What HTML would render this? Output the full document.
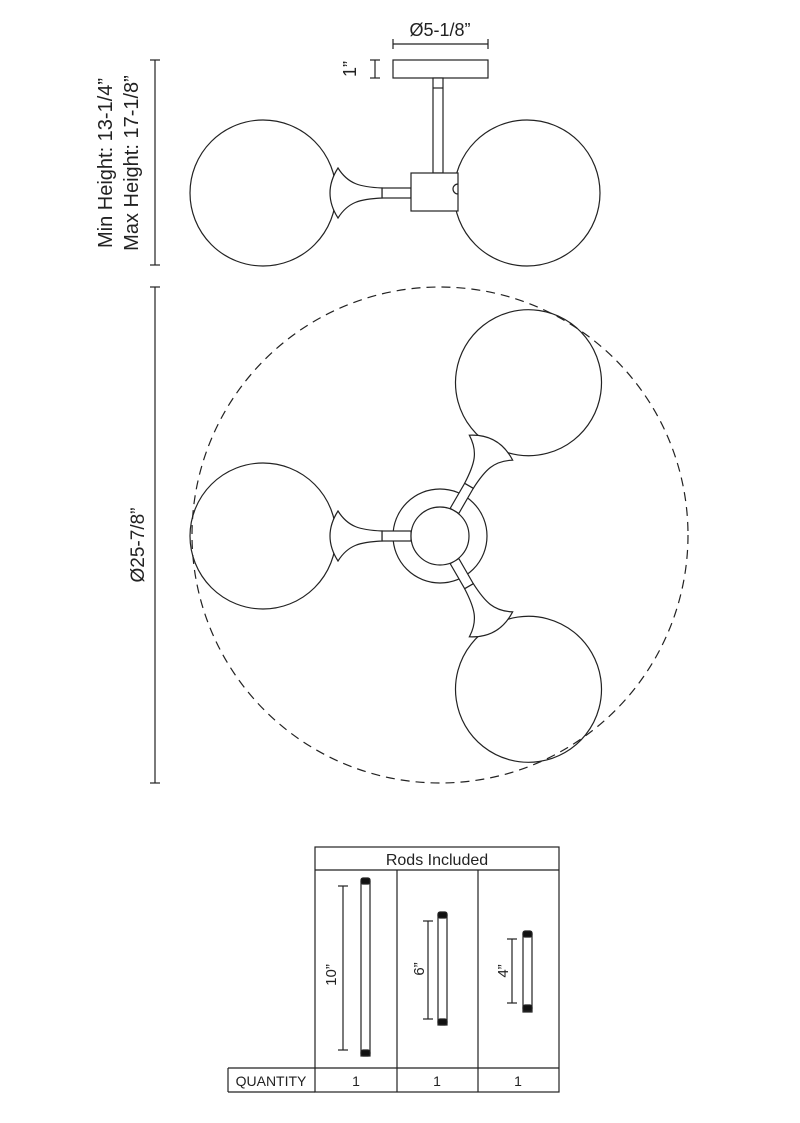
<!DOCTYPE html>
<html><head><style>html,body{margin:0;padding:0;background:#fff}svg{display:block}</style></head>
<body>
<svg width="800" height="1123" viewBox="0 0 800 1123" xmlns="http://www.w3.org/2000/svg" font-family="Liberation Sans, Arial, sans-serif">
<defs>
<g id="arm">
<rect x="-58" y="-5" width="29" height="10" fill="#fff"/>
<path d="M-58,-5 C-80,-6 -92,-9 -102,-25 Q-118,0 -102,25 C-92,9 -80,6 -58,5 Z" fill="#fff"/>
</g>
</defs>
<g stroke="#222" stroke-width="1.2" fill="none">
<line x1="393" y1="44" x2="488" y2="44"/><line x1="393" y1="39" x2="393" y2="49"/><line x1="488" y1="39" x2="488" y2="49"/>
<line x1="375" y1="60" x2="375" y2="78"/><line x1="370" y1="60" x2="380" y2="60"/><line x1="370" y1="78" x2="380" y2="78"/>
<line x1="155" y1="60" x2="155" y2="265"/><line x1="150" y1="60" x2="160" y2="60"/><line x1="150" y1="265" x2="160" y2="265"/>
<circle cx="263" cy="193" r="73"/>
<circle cx="527" cy="193" r="73"/>
<rect x="393" y="60" width="95" height="18" fill="#fff"/>
<rect x="433" y="78" width="10" height="95" fill="#fff"/><line x1="433" y1="88" x2="443" y2="88"/>
<use href="#arm" transform="translate(440,193)"/>
<rect x="411" y="173" width="47" height="38" fill="#fff"/>
<path d="M458,184 A5,5 0 0 0 458,194"/>
<circle cx="440" cy="535" r="248" stroke-dasharray="9,6"/>
<line x1="155" y1="287" x2="155" y2="783"/><line x1="150" y1="287" x2="160" y2="287"/><line x1="150" y1="783" x2="160" y2="783"/>
<circle cx="440" cy="536" r="47" fill="#fff"/>
<g transform="translate(440,536)">
<g><circle cx="-177" cy="0" r="73"/><use href="#arm"/></g>
<g transform="rotate(120)"><circle cx="-177" cy="0" r="73"/><use href="#arm"/></g>
<g transform="rotate(-120)"><circle cx="-177" cy="0" r="73"/><use href="#arm"/></g>
<circle cx="0" cy="0" r="29" fill="#fff"/>
</g>
<rect x="315" y="847" width="244" height="245"/>
<line x1="315" y1="870" x2="559" y2="870"/>
<line x1="228" y1="1068" x2="559" y2="1068"/>
<line x1="228" y1="1068" x2="228" y2="1092"/><line x1="228" y1="1092" x2="315" y2="1092"/>
<line x1="397" y1="870" x2="397" y2="1092"/><line x1="478" y1="870" x2="478" y2="1092"/>
<rect x="361" y="882" width="9" height="174" fill="#fff"/>
<rect x="361" y="878" width="9" height="6" rx="2" fill="#111"/><rect x="361" y="1050" width="9" height="6" rx="2" fill="#111"/>
<line x1="343" y1="886" x2="343" y2="1050"/><line x1="338" y1="886" x2="348" y2="886"/><line x1="338" y1="1050" x2="348" y2="1050"/>
<rect x="438" y="915" width="9" height="110" fill="#fff"/>
<rect x="438" y="912" width="9" height="6" rx="2" fill="#111"/><rect x="438" y="1019" width="9" height="6" rx="2" fill="#111"/>
<line x1="428" y1="921" x2="428" y2="1019"/><line x1="423" y1="921" x2="433" y2="921"/><line x1="423" y1="1019" x2="433" y2="1019"/>
<rect x="523" y="934" width="9" height="78" fill="#fff"/>
<rect x="523" y="931" width="9" height="6" rx="2" fill="#111"/><rect x="523" y="1005" width="9" height="6" rx="2" fill="#111"/>
<line x1="512" y1="939" x2="512" y2="1003"/><line x1="507" y1="939" x2="517" y2="939"/><line x1="507" y1="1003" x2="517" y2="1003"/>
</g>
<g fill="#222">
<text x="440" y="36" text-anchor="middle" font-size="18">Ø5-1/8”</text>
<text transform="translate(356,69) rotate(-90)" text-anchor="middle" font-size="18">1”</text>
<text transform="translate(112,163) rotate(-90)" text-anchor="middle" font-size="20">Min Height: 13-1/4”</text>
<text transform="translate(138,163) rotate(-90)" text-anchor="middle" font-size="20">Max Height: 17-1/8”</text>
<text transform="translate(144,545) rotate(-90)" text-anchor="middle" font-size="19">Ø25-7/8”</text>
</g>
<g fill="#222" font-size="14">
<text x="437" y="865" text-anchor="middle" font-size="16">Rods Included</text>
<text x="271" y="1086" text-anchor="middle">QUANTITY</text>
<text x="356" y="1086" text-anchor="middle">1</text>
<text x="437" y="1086" text-anchor="middle">1</text>
<text x="518" y="1086" text-anchor="middle">1</text>
<text transform="translate(336,975) rotate(-90)" text-anchor="middle" font-size="15">10”</text>
<text transform="translate(424,969) rotate(-90)" text-anchor="middle" font-size="15">6”</text>
<text transform="translate(508,971) rotate(-90)" text-anchor="middle" font-size="15">4”</text>
</g>
</svg>
</body></html>
